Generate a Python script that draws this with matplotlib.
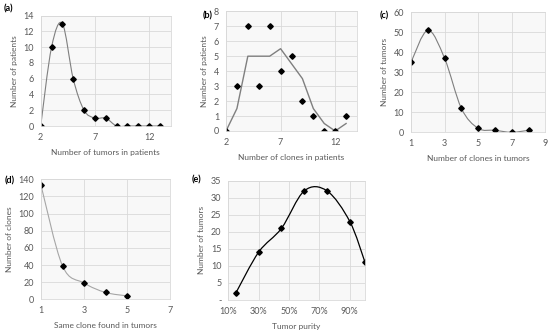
import numpy as np
import pandas as pd
import matplotlib
matplotlib.use("Agg")
import matplotlib.pyplot as plt
from matplotlib.path import Path
from matplotlib.patches import PathPatch
from matplotlib.ticker import PercentFormatter, FuncFormatter

plt.rcParams['font.family'] = ['Lato', 'DejaVu Sans']
plt.rcParams['font.size'] = 6

# (a) tumors per patient
a_x = [2, 3, 4, 5, 6, 7, 8, 9, 10, 11, 12, 13]
a_y = [0, 10, 13, 6, 2, 1, 1, 0, 0, 0, 0, 0]
# (b) clones per patient
b_x = [2, 3, 4, 5, 6, 7, 8, 9, 10, 11, 12, 13]
b_y = [0, 3, 7, 3, 7, 4, 5, 2, 1, 0, 0, 1]
# (c) clones per tumor
c_x = [1, 2, 3, 4, 5, 6, 7, 8]
c_y = [35, 51, 37, 12, 2, 1, 0, 1]
# (d) same clone found in tumors
d_x = [1, 2, 3, 4, 5]
d_y = [133, 39, 19, 8, 4]
# (e) tumor purity
e_x = [0.15, 0.30, 0.45, 0.60, 0.75, 0.90, 1.00]
e_y = [2, 14, 21, 32, 32, 23, 11]

W, H = 550, 332
TXT = '#595959'
GRID = '#d9d9d9'


def smooth_path(x, y):
    # Excel-style smoothed line: cubic Bezier segments, Catmull-Rom control points
    p = np.column_stack([x, y]).astype(float)
    ext = np.vstack([p[0], p, p[-1]])
    verts = [p[0]]
    codes = [Path.MOVETO]
    for i in range(len(p) - 1):
        p0, p1, p2, p3 = ext[i], ext[i + 1], ext[i + 2], ext[i + 3]
        verts += [p1 + (p2 - p0) / 6, p2 - (p3 - p1) / 6, p2]
        codes += [Path.CURVE4] * 3
    return Path(verts, codes)


def make_ax(l, r, t, b):
    ax = fig.add_axes([l / W, 1 - b / H, (r - l) / W, (b - t) / H])
    ax.set_facecolor('#f8f8f8')
    ax.grid(True, color=GRID, linewidth=0.6)
    ax.set_axisbelow(True)
    for s in ax.spines.values():
        s.set_color(GRID)
        s.set_linewidth(0.6)
    ax.tick_params(length=0, colors=TXT, labelsize=6.5, pad=5)
    return ax


def panel_label(x, y, s):
    fig.text(x / W, 1 - y / H, s, fontweight='bold', fontsize=6.5, va='center')


fig = plt.figure(figsize=(5.5, 3.32), dpi=100)

# (a)
ax = make_ax(40.7, 170.7, 15.7, 126)
ax.add_patch(PathPatch(smooth_path(a_x, a_y), fc='none', ec='#7f7f7f', lw=0.8))
ax.plot(a_x, a_y, 'D', color='black', ms=2.8, ls='none')
ax.set_xlim(2, 14)
ax.set_ylim(0, 14)
ax.set_xticks([2, 7, 12])
ax.set_yticks(range(0, 15, 2))
ax.set_xlabel('Number of tumors in patients', color=TXT, labelpad=5)
ax.set_ylabel('Number of patients', color=TXT, labelpad=4)
panel_label(4, 9, '(a)')

# (b)
ax = make_ax(226, 357, 11.3, 131)
b_ma = pd.Series(b_y).rolling(2, min_periods=1).mean()
ax.plot(b_x, b_ma, color='#7f7f7f', lw=1.0)
ax.plot(b_x, b_y, 'D', color='black', ms=2.8, ls='none')
ax.set_xlim(2, 14)
ax.set_ylim(0, 8)
ax.set_xticks([2, 7, 12])
ax.set_yticks(range(0, 9))
ax.set_xlabel('Number of clones in patients', color=TXT, labelpad=5)
ax.set_ylabel('Number of patients', color=TXT, labelpad=4)
panel_label(203, 16, '(b)')

# (c)
ax = make_ax(411, 545.3, 12.3, 132.3)
ax.add_patch(PathPatch(smooth_path(c_x, c_y), fc='none', ec='#7f7f7f', lw=0.8))
ax.plot(c_x, c_y, 'D', color='black', ms=2.8, ls='none')
ax.set_xlim(1, 9)
ax.set_ylim(0, 60)
ax.set_xticks([1, 3, 5, 7, 9])
ax.set_yticks(range(0, 61, 10))
ax.set_xlabel('Number of clones in tumors', color=TXT, labelpad=5)
ax.set_ylabel('Number of tumors', color=TXT, labelpad=4)
panel_label(380, 16, '(c)')

# (d)
ax = make_ax(41, 170, 179.3, 299.3)
ax.add_patch(PathPatch(smooth_path(d_x, d_y), fc='none', ec='#a6a6a6', lw=0.8))
ax.plot(d_x, d_y, 'D', color='black', ms=2.8, ls='none')
ax.set_xlim(1, 7)
ax.set_ylim(0, 140)
ax.set_xticks([1, 3, 5, 7])
ax.set_yticks(range(0, 141, 20))
ax.set_xlabel('Same clone found in tumors', color=TXT, labelpad=5)
ax.set_ylabel('Number of clones', color=TXT, labelpad=4)
panel_label(5, 181, '(d)')

# (e)
ax = make_ax(228.3, 365, 180.7, 299.7)
ax.add_patch(PathPatch(smooth_path(e_x, e_y), fc='none', ec='black', lw=0.9))
ax.plot(e_x, e_y, 'D', color='black', ms=2.8, ls='none')
ax.set_xlim(0.10, 1.00)
ax.set_ylim(0, 35)
ax.set_xticks([0.1, 0.3, 0.5, 0.7, 0.9])
ax.xaxis.set_major_formatter(PercentFormatter(1.0, decimals=0))
ax.set_yticks(range(0, 36, 5))
ax.yaxis.set_major_formatter(FuncFormatter(lambda v, p: '-' if v == 0 else f'{v:.0f}'))
ax.set_xlabel('Tumor purity', color=TXT, labelpad=5)
ax.set_ylabel('Number of tumors', color=TXT, labelpad=4)
panel_label(192, 180, '(e)')

fig.savefig('out.png', dpi=100)
